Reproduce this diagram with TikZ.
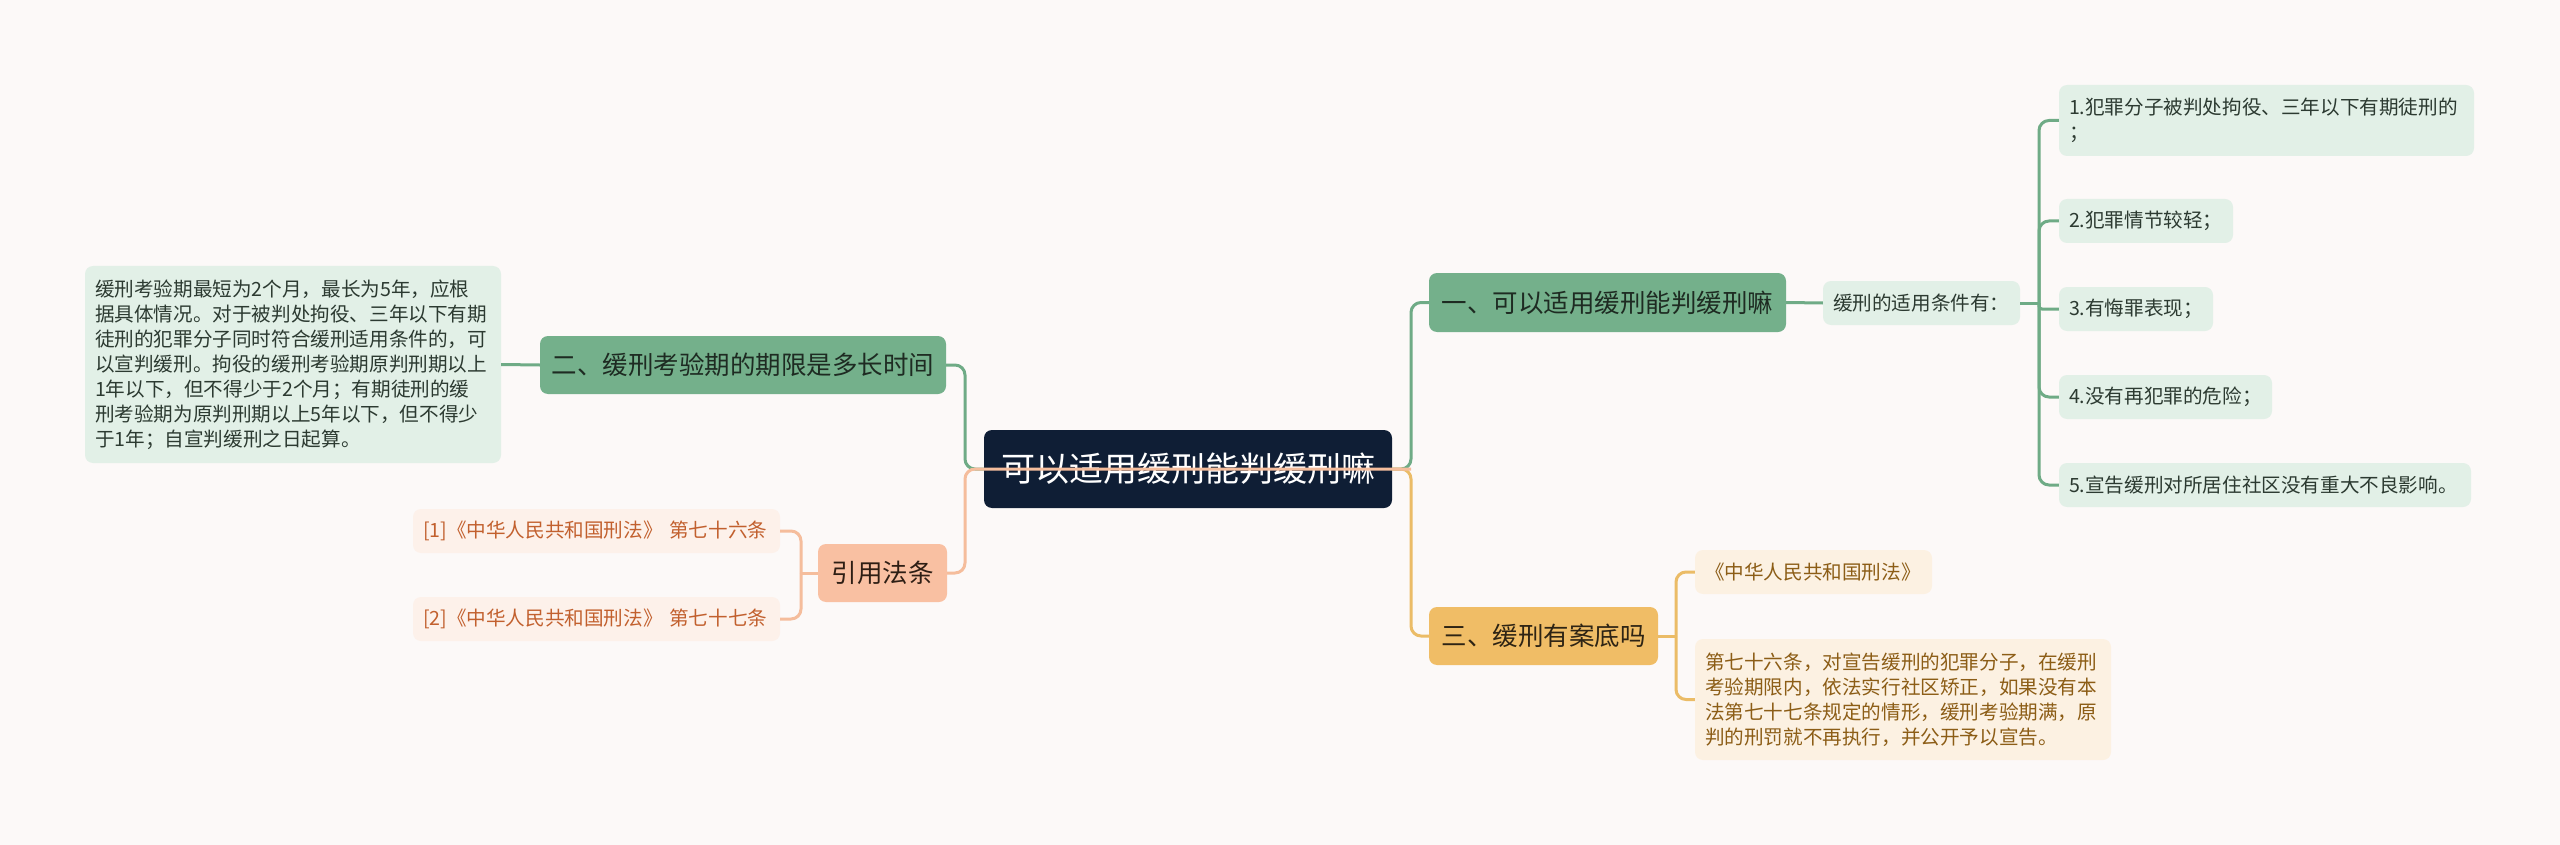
\documentclass[tikz,border=0pt]{standalone}
\usepackage{fontspec}
\setmainfont{Noto Sans CJK SC}
\definecolor{bgc}{HTML}{FCF9F8}
\definecolor{rootc}{HTML}{0F1E35}
\definecolor{gmainc}{HTML}{74B08B}
\definecolor{gleafc}{HTML}{E2F0E7}
\definecolor{glinec}{HTML}{6FAB86}
\definecolor{gtext}{HTML}{1E2B22}
\definecolor{gltext}{HTML}{2C3A31}
\definecolor{pmainc}{HTML}{F9C0A2}
\definecolor{pleafc}{HTML}{FDF1EA}
\definecolor{plinec}{HTML}{F5BD9C}
\definecolor{ptext}{HTML}{2E1E14}
\definecolor{pltext}{HTML}{C2602E}
\definecolor{ymainc}{HTML}{F0BD66}
\definecolor{yleafc}{HTML}{FCF1E2}
\definecolor{ylinec}{HTML}{EBBC67}
\definecolor{ytext}{HTML}{2E2414}
\definecolor{yltext}{HTML}{8C5D16}
\begin{document}
\begin{tikzpicture}[x=1pt,y=-1pt,
  box/.style={rounded corners=8pt, inner sep=0pt, align=left},
  lbox/.style={rounded corners=8pt, inner xsep=10pt, inner ysep=0pt, align=left},
  rootbox/.style={box, fill=rootc, text=white, font=\fontsize{34}{40}\selectfont},
  gmain/.style={box, fill=gmainc, text=gtext, font=\fontsize{25.5}{30}\selectfont},
  gleaf/.style={lbox, fill=gleafc, text=gltext, font=\fontsize{19.6}{25}\selectfont},
  pmain/.style={box, fill=pmainc, text=ptext, font=\fontsize{25.5}{30}\selectfont},
  pleaf/.style={lbox, fill=pleafc, text=pltext, font=\fontsize{19.6}{25}\selectfont},
  ymain/.style={box, fill=ymainc, text=ytext, font=\fontsize{25.5}{30}\selectfont},
  yleaf/.style={lbox, fill=yleafc, text=yltext, font=\fontsize{19.6}{25}\selectfont},
  gline/.style={draw=glinec, line width=3pt, rounded corners=10pt},
  pline/.style={draw=plinec, line width=3pt, rounded corners=10pt},
  yline/.style={draw=ylinec, line width=3pt, rounded corners=10pt},
]
\fill[bgc] (0,0) rectangle (2560,845);
\useasboundingbox (0,0) rectangle (2560,845);

% nodes
\node[rootbox, minimum width=408pt, minimum height=78pt] (root) at (1188,469) {可以适用缓刑能判缓刑嘛};

\node[gmain, minimum width=406pt, minimum height=58pt] (n2) at (743,365) {二、缓刑考验期的期限是多长时间};
\node[gleaf, text width=396pt, minimum height=197pt] (l2) at (293,364.5) {缓刑考验期最短为2个月，最长为5年，应根\\据具体情况。对于被判处拘役、三年以下有期\\徒刑的犯罪分子同时符合缓刑适用条件的，可\\以宣判缓刑。拘役的缓刑考验期原判刑期以上\\1年以下，但不得少于2个月；有期徒刑的缓\\刑考验期为原判刑期以上5年以下，但不得少\\于1年；自宣判缓刑之日起算。};

\node[pmain, minimum width=129pt, minimum height=58pt] (yin) at (882.5,573) {引用法条};
\node[pleaf, text width=347pt, minimum height=44pt] (c1) at (596.5,531) {[1]《中华人民共和国刑法》 第七十六条};
\node[pleaf, text width=347pt, minimum height=44pt] (c2) at (596.5,619) {[2]《中华人民共和国刑法》 第七十七条};

\node[gmain, minimum width=357pt, minimum height=59pt] (n1) at (1607.5,302.5) {一、可以适用缓刑能判缓刑嘛};
\node[gleaf, text width=177pt, minimum height=44pt] (cond) at (1921.5,303) {缓刑的适用条件有：};
\node[gleaf, text width=395pt, minimum height=71pt] (k1) at (2266.5,120.5) {1.犯罪分子被判处拘役、三年以下有期徒刑的\\；};
\node[gleaf, text width=154pt, minimum height=44pt] (k2) at (2146,221) {2.犯罪情节较轻；};
\node[gleaf, text width=134pt, minimum height=44pt] (k3) at (2136,309) {3.有悔罪表现；};
\node[gleaf, text width=193pt, minimum height=44pt] (k4) at (2165.5,397) {4.没有再犯罪的危险；};
\node[gleaf, text width=392pt, minimum height=44pt] (k5) at (2265,485) {5.宣告缓刑对所居住社区没有重大不良影响。};

\node[ymain, minimum width=229pt, minimum height=58pt] (n3) at (1543.5,636) {三、缓刑有案底吗};
\node[yleaf, text width=217pt, minimum height=44pt] (a1) at (1813.5,572) {《中华人民共和国刑法》};
\node[yleaf, text width=396pt, minimum height=121pt] (a2) at (1903,699.5) {第七十六条，对宣告缓刑的犯罪分子，在缓刑\\考验期限内，依法实行社区矫正，如果没有本\\法第七十七条规定的情形，缓刑考验期满，原\\判的刑罚就不再执行，并公开予以宣告。};

% junction coordinates
\coordinate (jl) at (965,469);
\coordinate (jr) at (1411,469);
\coordinate (bc) at (2039,303);
\coordinate (by) at (801,573);
\coordinate (b3) at (1676,636);

% connectors
\draw[gline] (n2.east) -| (jl) -- (root.west);
\draw[gline] (l2.east) -- (n2.west);
\draw[gline] (root.east) -- (jr) |- (n1.west);
\draw[yline] (root.east) -- (jr) |- (n3.west);
\draw[gline] (n1.east) -- (cond.west);
\draw[gline] (cond.east) -- (bc);
\draw[gline] (bc) |- (k1.west);
\draw[gline] (bc) |- (k2.west);
\draw[gline, rounded corners=3pt] (bc) |- (k3.west);
\draw[gline] (bc) |- (k4.west);
\draw[gline] (bc) |- (k5.west);
\draw[pline] (yin.west) -- (by);
\draw[pline] (by) |- (c1.east);
\draw[pline] (by) |- (c2.east);
\draw[yline] (n3.east) -- (b3);
\draw[yline] (b3) |- (a1.west);
\draw[yline] (b3) |- (a2.west);
\draw[pline] (yin.east) -| (jl) -- (jr);
\end{tikzpicture}
\end{document}
